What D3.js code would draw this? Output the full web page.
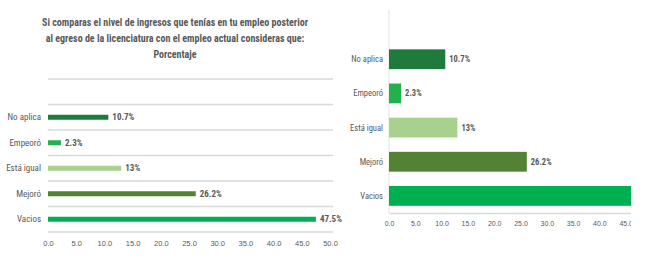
<!DOCTYPE html>
<html>
<head>
<meta charset="utf-8">
<script src="https://cdn.jsdelivr.net/npm/d3@7"></script>
<style>
  body { margin: 0; background: #fff; }
  svg { display: block; font-family: "Liberation Sans Narrow", "Roboto Condensed", "Liberation Sans", sans-serif; }
  .lbl { fill: #595959; }
</style>
</head>
<body>
<div id="chart"></div>
<script>
// data (top band is left empty in the original)
const categories = ["", "No aplica", "Empeoró", "Está igual", "Mejoró", "Vacios"];
const values = [null, 10.7, 2.3, 13, 26.2, 47.5];
const valueLabels = ["", "10.7%", "2.3%", "13%", "26.2%", "47.5%"];
const barColors = ["#fff", "#1e7b3c", "#22b24c", "#a9d18e", "#548235", "#00b050"];
const ticks = [0, 5, 10, 15, 20, 25, 30, 35, 40, 45, 50];
const titleLines = [
    "Si comparas el nivel de ingresos que tenías en tu empleo posterior",
    "al egreso de la licenciatura con el empleo actual consideras que:",
    "Porcentaje"
];

const W = 647, H = 259;
const clipEdge = 631;   // the right screenshot is cut off here
const svg = d3.select("#chart").append("svg").attr("width", W).attr("height", H);

const rows = categories.map((c, i) => ({cat: c, val: values[i], lab: valueLabels[i], col: barColors[i]}))
    .filter(d => d.val !== null);

/* ---------- left chart ---------- */
let left = svg.append("g");

left.selectAll(".title").data(titleLines).enter().append("text")
    .attr("class", "lbl")
    .attr("x", 175).attr("y", (d, i) => 26 + i * 16)
    .attr("text-anchor", "middle")
    .attr("font-size", 10).attr("font-weight", "bold")
    .text(d => d);

let xL = d3.scaleLinear().domain([0, 50]).range([48, 330]);
let yL = d3.scaleBand().domain(categories).range([79, 232]);

// band gridlines
let edges = categories.map(c => yL(c)).concat([yL.range()[1]]);
left.selectAll(".grid").data(edges).enter().append("line")
    .attr("x1", 48).attr("x2", 333)
    .attr("y1", d => d).attr("y2", d => d)
    .attr("stroke", "#d9d9d9").attr("stroke-width", 1.3);

left.selectAll(".bar").data(rows).enter().append("rect")
    .attr("x", xL(0)).attr("y", d => yL(d.cat) + yL.bandwidth() / 2 - 2.5)
    .attr("width", d => xL(d.val) - xL(0)).attr("height", 5)
    .attr("fill", d => d.col);

left.selectAll(".val").data(rows).enter().append("text")
    .attr("class", "lbl")
    .attr("x", d => xL(d.val) + 4).attr("y", d => yL(d.cat) + yL.bandwidth() / 2 + 3)
    .attr("font-size", 9).attr("font-weight", "bold")
    .text(d => d.lab);

left.selectAll(".cat").data(rows).enter().append("text")
    .attr("class", "lbl")
    .attr("x", 41).attr("y", d => yL(d.cat) + yL.bandwidth() / 2 + 3)
    .attr("text-anchor", "end").attr("font-size", 9)
    .text(d => d.cat);

let axL = left.append("g").attr("transform", "translate(0,232)")
    .call(d3.axisBottom(xL).tickValues(ticks).tickSize(0).tickPadding(9).tickFormat(d3.format(".1f")));
axL.select(".domain").remove();
axL.selectAll("text").attr("class", "lbl").attr("font-size", 7.5)
    .attr("font-family", null);

/* ---------- right chart ---------- */
svg.append("clipPath").attr("id", "clipR")
    .append("rect").attr("x", 336).attr("y", 0).attr("width", clipEdge - 336).attr("height", H);

let right = svg.append("g").attr("clip-path", "url(#clipR)");

let xR = d3.scaleLinear().domain([0, 50]).range([389, 652]);
let yR = d3.scaleBand().domain(categories).range([8, 213]).paddingInner(0.42).paddingOuter(0.21);

right.append("line")
    .attr("x1", 389).attr("x2", 389).attr("y1", 10).attr("y2", 213)
    .attr("stroke", "#e3e3e3").attr("stroke-width", 1);

right.selectAll(".bar").data(rows).enter().append("rect")
    .attr("x", xR(0)).attr("y", d => yR(d.cat))
    .attr("width", d => xR(d.val) - xR(0)).attr("height", yR.bandwidth())
    .attr("fill", d => d.col);

// labels that fall past the cut edge are not visible in the original
right.selectAll(".val").data(rows.filter(d => xR(d.val) + 4 < clipEdge)).enter().append("text")
    .attr("class", "lbl")
    .attr("x", d => xR(d.val) + 4).attr("y", d => yR(d.cat) + yR.bandwidth() / 2 + 3)
    .attr("font-size", 8.5).attr("font-weight", "bold")
    .text(d => d.lab);

right.selectAll(".cat").data(rows).enter().append("text")
    .attr("class", "lbl")
    .attr("x", 383).attr("y", d => yR(d.cat) + yR.bandwidth() / 2 + 3)
    .attr("text-anchor", "end").attr("font-size", 8.5)
    .text(d => d.cat);

let axR = right.append("g").attr("transform", "translate(0,213)")
    .call(d3.axisBottom(xR).tickValues(ticks.filter(t => xR(t) < clipEdge)).tickSize(0).tickPadding(8).tickFormat(d3.format(".1f")));
axR.select(".domain").attr("stroke", "#d9d9d9").attr("stroke-width", 1.3);
axR.selectAll("text").attr("class", "lbl").attr("font-size", 7)
    .attr("font-family", null);
</script>
</body>
</html>
